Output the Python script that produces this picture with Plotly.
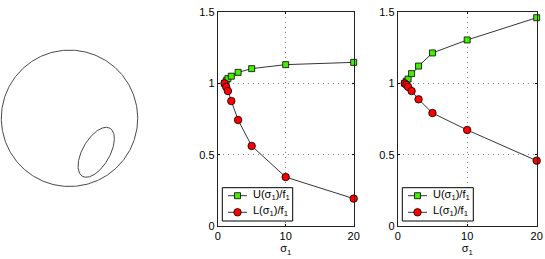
import numpy as np
import plotly.graph_objects as go

# ---- data ----
sigma = [1, 1.25, 1.5, 2, 3, 5, 10, 20]
U_left = [1.0, 1.018, 1.033, 1.05, 1.077, 1.103, 1.131, 1.147]
L_left = [1.0, 0.975, 0.946, 0.876, 0.743, 0.561, 0.343, 0.192]
U_right = [1.0, 1.015, 1.03, 1.068, 1.121, 1.213, 1.304, 1.46]
L_right = [1.0, 0.99, 0.975, 0.946, 0.888, 0.792, 0.673, 0.458]

x_ticks = [0, 10, 20]
y_ticks = [0, 0.5, 1, 1.5]
y_ticklabels = ["0", "0.5", "1", "1.5"]
series_names = ["U(σ<sub>1</sub>)/f<sub>1</sub>", "L(σ<sub>1</sub>)/f<sub>1</sub>"]

# sketch (page pixel units): circle and tilted ellipse
circle_center = [69.5, 118.3]
circle_radius = [68.2]
ellipse_center = [96.2, 152.3]
ellipse_axes = [27.7, 13.7]
ellipse_angle_deg = [60.2]

W, H = 545, 259
FONT = "Liberation Sans, Arial, Helvetica, sans-serif"

def px(x):
    return x / W

def py(y):
    return 1 - y / H

fig = go.Figure()

green = "#44ee00"
red = "#ff0000"
sq_marker = dict(symbol="square", size=6, color=green, line=dict(color="black", width=0.8))
ci_marker = dict(symbol="circle", size=7.5, color=red, line=dict(color="black", width=0.8))
line_style = dict(color="black", width=0.8)

def add_panel(U, L, xa, ya):
    fig.add_trace(go.Scatter(x=sigma, y=U, mode="lines+markers", name=series_names[0],
                             line=line_style, marker=sq_marker, xaxis=xa, yaxis=ya,
                             showlegend=False, cliponaxis=False))
    fig.add_trace(go.Scatter(x=sigma, y=L, mode="lines+markers", name=series_names[1],
                             line=line_style, marker=ci_marker, xaxis=xa, yaxis=ya,
                             showlegend=False, cliponaxis=False))

add_panel(U_left, L_left, "x", "y")
add_panel(U_right, L_right, "x2", "y2")

# sketch on page-pixel hidden axes (x3/y3 cover the whole figure)
t = np.linspace(0, 2 * np.pi, 361)
cx, cy = circle_center
r = circle_radius[0]
fig.add_trace(go.Scatter(x=cx + r * np.cos(t), y=cy + r * np.sin(t), mode="lines",
                         line=dict(color="#333333", width=0.9), showlegend=False,
                         xaxis="x3", yaxis="y3", hoverinfo="skip", cliponaxis=False))
ex, ey = ellipse_center
a, b = ellipse_axes
phi = np.deg2rad(ellipse_angle_deg[0])
exs = ex + a * np.cos(t) * np.cos(phi) - b * np.sin(t) * np.sin(phi)
eys = ey - (a * np.cos(t) * np.sin(phi) + b * np.sin(t) * np.cos(phi))
fig.add_trace(go.Scatter(x=exs, y=eys, mode="lines",
                         line=dict(color="#333333", width=0.9), showlegend=False,
                         xaxis="x3", yaxis="y3", hoverinfo="skip", cliponaxis=False))

# manual legends (page pixel coords)
legend_boxes = [(222.3, 292.7), (402.3, 473.3)]
leg_top, leg_bot = 187.7, 221.0
entry_y = [195.7, 212.3]
shapes = []
annotations = []
for (x0, x1) in legend_boxes:
    shapes.append(dict(type="rect", xref="x3", yref="y3", x0=x0, x1=x1, y0=leg_top, y1=leg_bot,
                       line=dict(color="black", width=1), fillcolor="white", layer="between"))
    for k, (mk, yy) in enumerate(zip([sq_marker, ci_marker], entry_y)):
        fig.add_trace(go.Scatter(x=[x0 + 5.7, x0 + 15.2, x0 + 24.7], y=[yy, yy, yy],
                                 mode="lines", line=line_style, showlegend=False,
                                 xaxis="x3", yaxis="y3", hoverinfo="skip"))
        fig.add_trace(go.Scatter(x=[x0 + 15.2], y=[yy], mode="markers", marker=mk,
                                 showlegend=False, xaxis="x3", yaxis="y3", hoverinfo="skip"))
        annotations.append(dict(text=series_names[k], xref="x3", yref="y3", x=x0 + 29.0, y=yy - 1,
                                xanchor="left", yanchor="middle", showarrow=False,
                                font=dict(family=FONT, size=11, color="black")))

ydom = [py(226), py(12)]
x1dom = [px(217.7), px(353.7)]
x2dom = [px(397.7), px(536.7)]

axis_common = dict(
    showline=True, linecolor="#222222", linewidth=1, mirror="ticks",
    ticks="inside", ticklen=2, tickcolor="black",
    showgrid=True, gridcolor="#808080", griddash="1px,4px", gridwidth=1,
    zeroline=False, tickfont=dict(family=FONT, size=11, color="black"),
)

xcommon = dict(axis_common, range=[0, 20], tickvals=x_ticks,
               title=dict(text="σ<sub>1</sub>", font=dict(family=FONT, size=11, color="black"), standoff=2))
ycommon = dict(axis_common, range=[0, 1.5], tickvals=y_ticks, ticktext=y_ticklabels)

fig.update_layout(
    width=W, height=H, autosize=False,
    margin=dict(l=0, r=0, t=0, b=0, autoexpand=False),
    paper_bgcolor="white", plot_bgcolor="rgba(0,0,0,0)",
    showlegend=False,
    xaxis=dict(xcommon, domain=x1dom, anchor="y"),
    yaxis=dict(ycommon, domain=ydom, anchor="x"),
    xaxis2=dict(xcommon, domain=x2dom, anchor="y2"),
    yaxis2=dict(ycommon, domain=ydom, anchor="x2"),
    xaxis3=dict(domain=[0, 1], range=[0, W], visible=False, anchor="y3", fixedrange=True),
    yaxis3=dict(domain=[0, 1], range=[H, 0], visible=False, anchor="x3", fixedrange=True),
    shapes=shapes,
    annotations=annotations,
)

fig.write_html(
    "out.html",
    config={"displayModeBar": False},
    post_script="document.body.style.margin='0';document.body.style.overflow='hidden';",
)
